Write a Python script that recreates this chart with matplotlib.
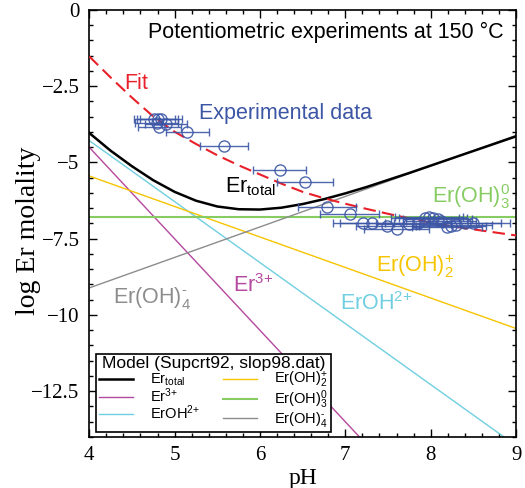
import matplotlib
matplotlib.use('Agg')
import matplotlib.pyplot as plt
from matplotlib.ticker import MultipleLocator, FuncFormatter

plt.rcParams['font.family'] = 'Liberation Sans'
plt.rcParams['mathtext.fontset'] = 'custom'
plt.rcParams['mathtext.rm'] = 'Liberation Sans'
plt.rcParams['mathtext.it'] = 'Liberation Sans:italic'
plt.rcParams['mathtext.bf'] = 'Liberation Sans:bold'

# ---------------- data ----------------
# species lines (model), endpoints at pH 4 and 9
ph_ends = [4.0, 9.0]
log_er3 = [-4.51, -19.51]
log_eroh = [-4.29, -14.29]
log_eroh2 = [-5.45, -10.45]
log_eroh3 = [-6.79, -6.79]
log_eroh4 = [-9.12, -4.12]

# total Er (model)
ph_total = [4.0, 4.25, 4.5, 4.75, 5.0, 5.25, 5.5, 5.75, 6.0, 6.25, 6.5,
            6.75, 7.0, 7.25, 7.5, 7.75, 8.0, 8.25, 8.5, 8.75, 9.0]
log_total = [-4.04, -4.62, -5.13, -5.59, -5.97, -6.26, -6.45, -6.54, -6.55,
             -6.49, -6.37, -6.21, -6.02, -5.81, -5.58, -5.35, -5.11, -4.87,
             -4.63, -4.39, -4.15]

# fit curve
ph_fit = [4.0, 4.25, 4.5, 4.75, 5.0, 5.25, 5.5, 5.75, 6.0, 6.25, 6.5,
          6.75, 7.0, 7.25, 7.5, 7.75, 8.0, 8.25, 8.5, 8.75, 9.0]
log_fit = [-1.53, -2.22, -2.88, -3.50, -4.00, -4.40, -4.77, -5.10, -5.40,
           -5.70, -5.97, -6.18, -6.36, -6.53, -6.69, -6.84, -6.98, -7.10,
           -7.20, -7.30, -7.40]

# experimental data
ph_exp = [4.76, 4.80, 4.84, 4.79, 4.82, 4.90, 5.15, 5.58, 6.23, 6.53, 6.78,
          7.05, 7.21, 7.31, 7.49, 7.60, 7.75, 7.85, 7.93, 7.98, 8.03, 8.08,
          8.12, 8.19, 8.24, 8.30, 8.40, 8.50]
log_exp = [-3.59, -3.58, -3.59, -3.70, -3.84, -3.75, -4.02, -4.48, -5.25,
           -5.65, -6.46, -6.71, -6.98, -6.98, -7.08, -7.19, -7.02, -7.00,
           -6.82, -6.80, -6.82, -6.86, -6.92, -7.11, -7.08, -7.05, -7.00,
           -7.00]
ph_err = [0.24, 0.24, 0.25, 0.25, 0.25, 0.25, 0.25, 0.28, 0.31, 0.33, 0.34,
          0.35, 0.36, 0.37, 0.37, 0.38, 0.39, 0.39, 0.40, 0.40, 0.40, 0.40,
          0.41, 0.41, 0.41, 0.42, 0.42, 0.43]

# ---------------- colours ----------------
c_total = '#000000'
c_er3 = '#b5489f'
c_eroh = '#6fcfe0'
c_eroh2 = '#f6c400'
c_eroh3 = '#86cc63'
c_eroh4 = '#8c8c8c'
c_fit = '#e8202a'
c_exp = '#3c56a5'

fig = plt.figure(figsize=(5.25, 4.88), dpi=100)
ax = fig.add_axes([0.170, 0.105, 0.813, 0.875])

l_tot, = ax.plot(ph_total, log_total, color=c_total, lw=1.8, label=r'Er$_{\text{total}}$', zorder=4)
l_er3, = ax.plot(ph_ends, log_er3, color=c_er3, lw=1.0, label=r'Er$^{\text{3+}}$')
l_eroh, = ax.plot(ph_ends, log_eroh, color=c_eroh, lw=1.0, label=r'ErOH$^{\text{2+}}$')
l_eroh2, = ax.plot(ph_ends, log_eroh2, color=c_eroh2, lw=1.0, label=r'Er(OH)$_2^{\text{+}}$')
l_eroh3, = ax.plot(ph_ends, log_eroh3, color=c_eroh3, lw=1.5, label=r'Er(OH)$_3^{0}$')
l_eroh4, = ax.plot(ph_ends, log_eroh4, color=c_eroh4, lw=1.0, label=r'Er(OH)$_4^{\text{-}}$')

ax.plot(ph_fit, log_fit, color=c_fit, lw=1.5, dashes=(6, 3), zorder=5)

ax.errorbar(ph_exp, log_exp, xerr=ph_err, fmt='o', ms=8, mfc='none',
            mec=c_exp, mew=1.0, ecolor=c_exp, elinewidth=1.0, capsize=3,
            capthick=1.0, zorder=6, alpha=0.9)

ax.set_xlim(4, 9)
ax.set_ylim(-14, 0)

ax.xaxis.set_major_locator(MultipleLocator(1))
ax.xaxis.set_minor_locator(MultipleLocator(0.2))
ax.yaxis.set_major_locator(MultipleLocator(2.5))
ax.yaxis.set_minor_locator(MultipleLocator(0.5))
ax.yaxis.set_major_formatter(FuncFormatter(lambda v, p: ('%g' % v).replace('-', '\u2212')))
ax.xaxis.set_major_formatter(FuncFormatter(lambda v, p: '%g' % v))

ax.tick_params(which='both', direction='in', top=True, right=True, width=1.0)
ax.tick_params(which='major', length=6, labelsize=15, pad=7)
ax.tick_params(which='minor', length=3)
for lab in ax.get_xticklabels() + ax.get_yticklabels():
    lab.set_fontfamily('Liberation Serif')
for sp in ax.spines.values():
    sp.set_linewidth(1.2)

ax.set_xlabel('pH', fontfamily='Liberation Serif', fontsize=17, labelpad=2)
ax.set_ylabel('log Er molality', fontfamily='Liberation Serif', fontsize=20)
ax.yaxis.set_label_coords(-0.113, 0.482)

fs = 15.5
ax.text(4.69, -0.93, 'Potentiometric experiments at 150 \u00b0C', fontsize=fs, color='black')
ax.text(4.41, -2.60, 'Fit', fontsize=fs, color=c_fit)
ax.text(5.28, -3.59, 'Experimental data', fontsize=fs, color=c_exp)
ax.text(5.59, -5.99, r'Er$_{\text{total}}$', fontsize=fs, color='black')
ax.text(8.02, -6.34, r'Er(OH)$_3^0$', fontsize=fs, color=c_eroh3)
ax.text(7.36, -8.59, r'Er(OH)$_2^{\text{+}}$', fontsize=fs, color=c_eroh2)
ax.text(5.68, -9.27, r'Er$^{\text{3+}}$', fontsize=fs, color=c_er3)
ax.text(6.94, -9.84, r'ErOH$^{\text{2+}}$', fontsize=fs, color=c_eroh)
ax.text(4.28, -9.60, r'Er(OH)$_4^{\text{-}}$', fontsize=fs, color=c_eroh4)

leg = ax.legend(handles=[l_tot, l_er3, l_eroh, l_eroh2, l_eroh3, l_eroh4],
                ncol=2, loc='lower left', bbox_to_anchor=(0.016, 0.012),
                borderaxespad=0, fontsize=10.5, title='Model (Supcrt92, slop98.dat)',
                title_fontsize=12.5, frameon=True, fancybox=False,
                handlelength=2.3, handletextpad=1.2, columnspacing=1.6,
                labelspacing=-0.1, borderpad=0.2)
leg.get_frame().set_edgecolor('black')
leg.get_frame().set_linewidth(1.2)
leg.get_frame().set_alpha(1)

fig.savefig('out.png', dpi=100)
